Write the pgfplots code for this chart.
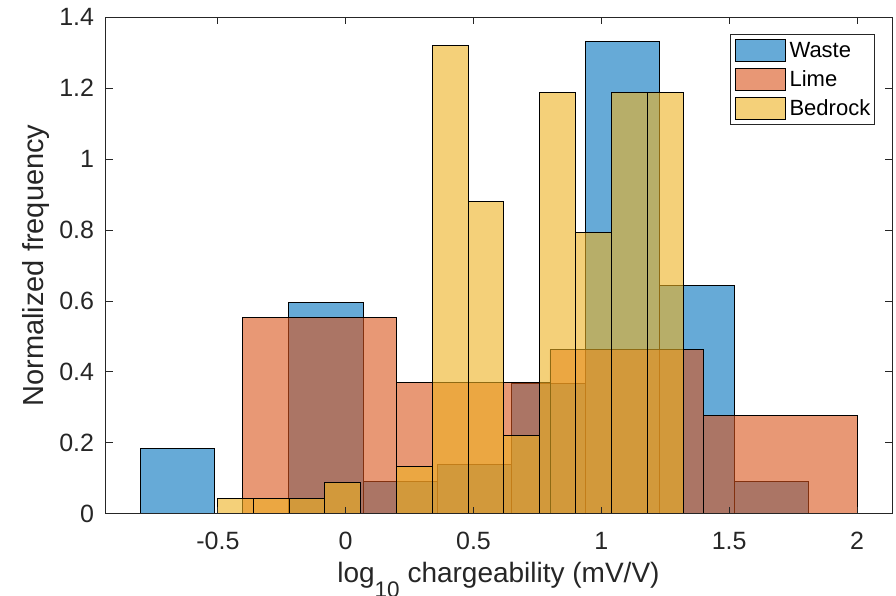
\documentclass[border=0pt]{standalone}
\usepackage{fontspec}
\setmainfont{Liberation Sans}
\usepackage{pgfplots}
\pgfplotsset{compat=1.18}
\definecolor{waste}{rgb}{0,0.447,0.741}
\definecolor{lime}{rgb}{0.85,0.325,0.098}
\definecolor{bedrock}{rgb}{0.929,0.694,0.125}
\definecolor{axgray}{rgb}{0.15,0.15,0.15}
\begin{document}
\begin{tikzpicture}
\begin{axis}[
  at={(105.7bp,82.3bp)}, anchor=south west,
  scale only axis, width=786.3bp, height=496.4bp,
  xmin=-0.9388, xmax=2.137, ymin=0, ymax=1.4,
  xtick={-0.5,0,0.5,1,1.5,2}, xticklabels={-0.5,0,0.5,1,1.5,2},
  ytick={0,0.2,0.4,0.6,0.8,1,1.2,1.4},
  yticklabels={0,0.2,0.4,0.6,0.8,1,1.2,1.4},
  tick align=inside, tick pos=both, major tick length=7bp,
  axis line style={axgray, line width=0.9bp},
  tick style={axgray, line width=0.9bp},
  tick label style={font=\fontsize{25bp}{30bp}\selectfont, text=axgray},
  xticklabel style={anchor=base, yshift=-35.3bp, inner sep=0pt},
  yticklabel style={anchor=east, xshift=-11.4bp, inner sep=0pt},
  axis on top,
  xlabel={log\raisebox{-15bp}{\fontsize{22.5bp}{22bp}\selectfont 10} chargeability (mV/V)},
  ylabel={Normalized frequency},
  every axis x label/.style={at={(axis description cs:0.4995,-0.139)}, anchor=base,
    font=\fontsize{28bp}{33bp}\selectfont, text=axgray, inner sep=0pt},
  every axis y label/.style={at={(axis description cs:-0.0794,0.5)}, rotate=90, anchor=base,
    font=\fontsize{29bp}{34bp}\selectfont, text=axgray, inner sep=0pt},
  legend style={at={(axis description cs:0.9784,0.9658)}, anchor=north east,
    draw=axgray, line width=0.9bp, fill=white, inner xsep=4.3bp, inner ysep=4.7bp,
    row sep=5.8bp, column sep=4bp, nodes={inner sep=0pt},
    font=\fontsize{22bp}{26bp}\selectfont, text=black},
  legend cell align=left,
  legend image code/.code={\draw[#1] (0bp,-11bp) rectangle (50bp,11bp);},
]
\addplot[ybar interval, fill=waste, fill opacity=0.6, draw=black, line width=0.8bp] coordinates {
(-0.8034,0.1837) (-0.5131,0) (-0.2228,0.5970) (0.0675,0.0919) (0.3578,0.1378)
(0.6481,0.3674) (0.9384,1.3320) (1.2287,0.6430) (1.5190,0.0919) (1.8093,0)};
\addlegendentry{Waste}
\addplot[ybar interval, fill=lime, fill opacity=0.6, draw=black, line width=0.8bp] coordinates {
(-0.403,0.5547) (0.198,0.3698) (0.799,0.4622) (1.400,0.2773) (2.001,0)};
\addlegendentry{Lime}
\addplot[ybar interval, fill=bedrock, fill opacity=0.6, draw=black, line width=0.8bp] coordinates {
(-0.5022,0.0440) (-0.3621,0.0440) (-0.2220,0.0440) (-0.0818,0.0880) (0.0583,0)
(0.1984,0.1321) (0.3385,1.3206) (0.4786,0.8804) (0.6188,0.2201) (0.7589,1.1885)
(0.8990,0.7924) (1.0391,1.1885) (1.1792,1.1885) (1.3194,0)};
\addlegendentry{Bedrock}
\end{axis}
\pgfresetboundingbox
\path[use as bounding box] (0,0) rectangle (896bp,596bp);
\end{tikzpicture}
\end{document}
